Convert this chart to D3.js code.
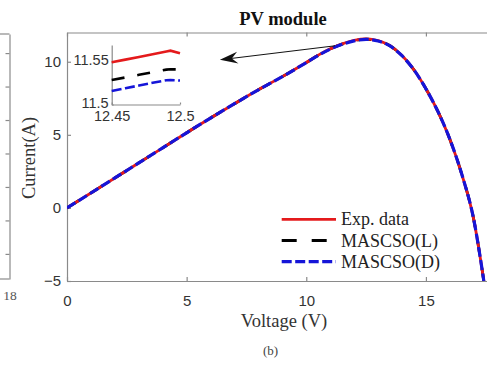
<!DOCTYPE html>
<html>
<head>
<meta charset="utf-8">
<script src="https://cdn.jsdelivr.net/npm/d3@7"></script>
<style>
  body { margin: 0; background: #fff; }
  svg { display: block; }
</style>
</head>
<body>
<svg id="chart" width="487" height="368"></svg>
<script>
// main curve
const voltage = [0, 1, 2, 3, 4, 5, 6, 7, 8, 9, 10, 10.5, 11, 11.5, 12, 12.5, 13, 13.5, 14, 14.5, 15, 15.5, 16, 16.5, 17, 17.42];
const currentExp = [0, 1.02, 2.05, 3.08, 4.11, 5.14, 6.15, 7.13, 8.08, 8.98, 9.95, 10.45, 10.88, 11.22, 11.46, 11.56, 11.45, 11.1, 10.42, 9.45, 8.15, 6.6, 4.7, 2.3, -0.8, -5.0];
const currentL = [0, 1.02, 2.05, 3.08, 4.11, 5.14, 6.15, 7.13, 8.08, 8.98, 9.94, 10.44, 10.87, 11.2, 11.44, 11.54, 11.43, 11.09, 10.41, 9.44, 8.15, 6.6, 4.7, 2.3, -0.8, -5.0];
const currentD = [0, 1.02, 2.05, 3.08, 4.11, 5.14, 6.15, 7.13, 8.08, 8.98, 9.94, 10.43, 10.86, 11.19, 11.43, 11.53, 11.42, 11.08, 10.41, 9.44, 8.15, 6.6, 4.7, 2.3, -0.8, -5.0];

const xLimits = [0, 18];
const yLimits = [-5, 12];
const xTicks = [0, 5, 10, 15];
const yTicks = [-5, 0, 5, 10];

// zoomed inset around the maximum
const insetVoltage = [12.45, 12.46, 12.47, 12.48, 12.49, 12.493, 12.5];
const insetExp = [11.5496, 11.5528, 11.556, 11.5592, 11.5624, 11.5633, 11.5602];
const insetL = [11.5288, 11.5318, 11.5349, 11.538, 11.541, 11.5414, 11.5412];
const insetD = [11.5159, 11.5191, 11.5223, 11.5255, 11.5285, 11.5288, 11.5282];
const insetXLimits = [12.45, 12.5];
const insetYLimits = [11.5, 11.57];
const insetXTicks = [12.45, 12.5];
const insetYTicks = [11.5, 11.55];

const arrowFrom = [11.2, 11.09];
const arrowTo = [6.39, 10.13];

const legendLabels = ['Exp. data', 'MASCSO(L)', 'MASCSO(D)'];

// right edge of panel (a), cut off by the crop
const leftPanelTicks = [0, 1, 2, 3, 4, 5, 6];

const axisColor = '#8a8a8a';
const tickFont = '"Liberation Sans", Arial, sans-serif';
const serif = '"Liberation Serif", "Times New Roman", serif';
const seriesStyle = [
  { color: '#e41a1c', dash: null, width: 2.8 },
  { color: '#000000', dash: '14,14', width: 2.8 },
  { color: '#1515d8', dash: '10,3.5', width: 3.2 }
];

const svg = d3.select('#chart');
svg.append('rect').attr('width', 487).attr('height', 368).attr('fill', '#fff');

function styleAxis(g, fontSize) {
  g.select('.domain').attr('stroke', axisColor).attr('stroke-width', 1.2);
  g.selectAll('.tick line').attr('stroke', axisColor).attr('stroke-width', 1.2);
  g.selectAll('.tick text')
      .style('font-family', tickFont)
      .style('font-size', fontSize + 'px')
      .attr('fill', '#333');
}

// ---- panel (a) remnant
const leftY = d3.scaleLinear().domain([-0.75, 6.57]).range([279, 34]);
const leftG = svg.append('g').attr('transform', 'translate(9.5,0)');
leftG.call(d3.axisRight(leftY).tickValues(leftPanelTicks).tickSizeInner(-4).tickSizeOuter(0).tickFormat(''));
styleAxis(leftG, 12);
svg.append('line').attr('x1', 0).attr('x2', 9.5).attr('y1', 34).attr('y2', 34).attr('stroke', axisColor).attr('stroke-width', 1.2);
svg.append('line').attr('x1', 0).attr('x2', 9.5).attr('y1', 279).attr('y2', 279).attr('stroke', axisColor).attr('stroke-width', 1.2);
svg.append('text')
    .attr('x', 10).attr('y', 300)
    .attr('text-anchor', 'middle')
    .style('font-family', serif)
    .style('font-size', '13.5px')
    .attr('fill', '#555')
    .text('18');

// ---- main axes
const xScale = d3.scaleLinear().domain(xLimits).range([67, 497.7]);
const yScale = d3.scaleLinear().domain(yLimits).range([281, 32.5]);

const xAxisG = svg.append('g').attr('transform', 'translate(0,281)')
    .call(d3.axisBottom(xScale).tickValues(xTicks).tickSizeInner(-4).tickSizeOuter(0).tickPadding(14));
styleAxis(xAxisG, 15);

const topAxisG = svg.append('g').attr('transform', 'translate(0,32.5)')
    .call(d3.axisTop(xScale).tickValues(xTicks).tickSizeInner(-4).tickSizeOuter(0).tickFormat(''));
styleAxis(topAxisG, 15);

const yAxisG = svg.append('g').attr('transform', 'translate(67,0)')
    .call(d3.axisLeft(yScale).tickValues(yTicks).tickSizeInner(-4).tickSizeOuter(0).tickPadding(6));
styleAxis(yAxisG, 15);

const rightAxisG = svg.append('g').attr('transform', 'translate(497.7,0)')
    .call(d3.axisRight(yScale).tickValues(yTicks).tickSizeInner(-4).tickSizeOuter(0).tickFormat(''));
styleAxis(rightAxisG, 15);

svg.append('defs').append('clipPath').attr('id', 'plotClip')
  .append('rect')
    .attr('x', 67).attr('y', 32.5)
    .attr('width', 430.7).attr('height', 248.5);

const plotG = svg.append('g').attr('clip-path', 'url(#plotClip)');

const mainLine = d3.line()
    .x((d, i) => xScale(voltage[i]))
    .y(d => yScale(d))
    .curve(d3.curveMonotoneX);

// black underneath so the blue gaps show red, like the picture
[[currentL, seriesStyle[1]], [currentExp, seriesStyle[0]], [currentD, seriesStyle[2]]].forEach(([vals, st]) => {
  plotG.append('path')
      .datum(vals)
      .attr('d', mainLine)
      .attr('fill', 'none')
      .attr('stroke', st.color)
      .attr('stroke-width', st.width)
      .attr('stroke-dasharray', st.dash);
});

// ---- inset
const xi = d3.scaleLinear().domain(insetXLimits).range([111.7, 180]);
const yi = d3.scaleLinear().domain(insetYLimits).range([104.5, 45]);
const plainNum = d => String(d);

const insetX = svg.append('g').attr('transform', 'translate(0,104.5)')
    .call(d3.axisBottom(xi).tickValues(insetXTicks).tickFormat(plainNum).tickSizeInner(-2).tickSizeOuter(0).tickPadding(6.5));
styleAxis(insetX, 14.5);

const insetY = svg.append('g').attr('transform', 'translate(111.7,0)')
    .call(d3.axisLeft(yi).tickValues(insetYTicks).tickFormat(plainNum).tickSizeInner(-2).tickSizeOuter(0).tickPadding(3));
styleAxis(insetY, 14.5);
insetY.selectAll('.tick text').attr('dy', '0.2em');

const insetLine = d3.line()
    .x((d, i) => xi(insetVoltage[i]))
    .y(d => yi(d));

const insetStyle = [
  [insetExp, { color: seriesStyle[0].color, dash: null }],
  [insetL, { color: '#000', dash: '13,13' }],
  [insetD, { color: seriesStyle[2].color, dash: '10,3.5' }]
];
insetStyle.forEach(([vals, st]) => {
  svg.append('path')
      .datum(vals)
      .attr('d', insetLine)
      .attr('fill', 'none')
      .attr('stroke', st.color)
      .attr('stroke-width', 2.6)
      .attr('stroke-dasharray', st.dash);
});

// ---- arrow annotation
const ax0 = xScale(arrowFrom[0]), ay0 = yScale(arrowFrom[1]);
const ax1 = xScale(arrowTo[0]), ay1 = yScale(arrowTo[1]);
const ang = Math.atan2(ay0 - ay1, ax0 - ax1);
svg.append('line')
    .attr('x1', ax0).attr('y1', ay0)
    .attr('x2', ax1 + 10 * Math.cos(ang)).attr('y2', ay1 + 10 * Math.sin(ang))
    .attr('stroke', '#111').attr('stroke-width', 1);
function pt(len, off) {
  return [ax1 + len * Math.cos(ang) - off * Math.sin(ang), ay1 + len * Math.sin(ang) + off * Math.cos(ang)];
}
svg.append('path')
    .attr('d', 'M' + [pt(0, 0), pt(18, 6), pt(12, 0), pt(18, -6)].map(p => p.join(',')).join('L') + 'Z')
    .attr('fill', '#111');

// ---- legend
const legendG = svg.append('g');
legendLabels.forEach((label, i) => {
  const ly = 219.3 + i * 21.2;
  const st = seriesStyle[i];
  legendG.append('line')
      .attr('x1', 281.7).attr('x2', 336)
      .attr('y1', ly).attr('y2', ly)
      .attr('stroke', st.color)
      .attr('stroke-width', st.width)
      .attr('stroke-dasharray', i === 1 ? '15,15' : st.dash);
  legendG.append('text')
      .attr('x', 341).attr('y', ly + 6)
      .style('font-family', serif)
      .style('font-size', '18px')
      .attr('fill', '#222')
      .text(label);
});

// ---- titles and labels
svg.append('text')
    .attr('x', 283).attr('y', 25)
    .attr('text-anchor', 'middle')
    .style('font-family', serif)
    .style('font-size', '18.5px')
    .style('font-weight', 'bold')
    .attr('fill', '#111')
    .text('PV module');

svg.append('text')
    .attr('x', 284).attr('y', 327)
    .attr('text-anchor', 'middle')
    .style('font-family', serif)
    .style('font-size', '18.5px')
    .attr('fill', '#333')
    .text('Voltage (V)');

svg.append('text')
    .attr('transform', 'translate(35,158) rotate(-90)')
    .attr('text-anchor', 'middle')
    .style('font-family', serif)
    .style('font-size', '18.5px')
    .attr('fill', '#333')
    .text('Current(A)');

svg.append('text')
    .attr('x', 270.5).attr('y', 355)
    .attr('text-anchor', 'middle')
    .style('font-family', serif)
    .style('font-size', '13px')
    .attr('fill', '#444')
    .text('(b)');
</script>
</body>
</html>
